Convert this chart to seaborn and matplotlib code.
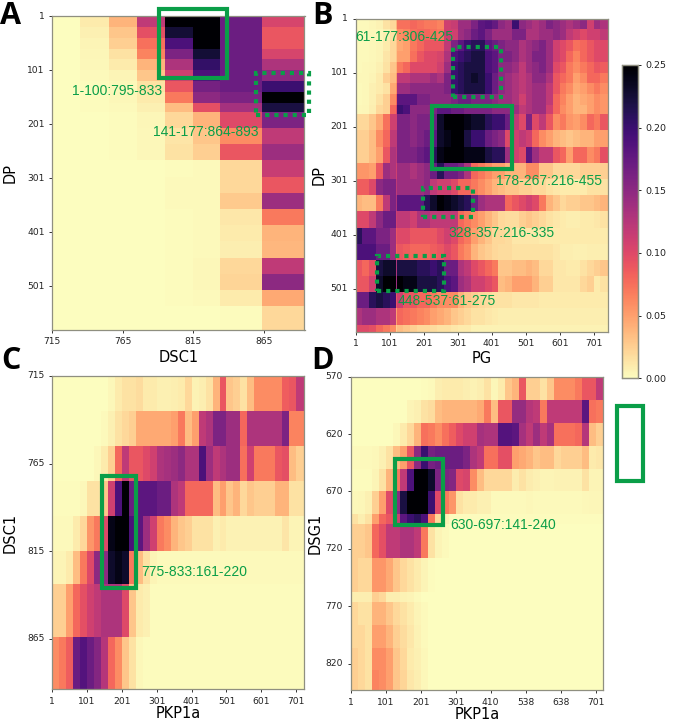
import numpy as np
import seaborn as sns
import matplotlib
matplotlib.use("Agg")
import matplotlib.pyplot as plt
from matplotlib.patches import Rectangle

W, H = 682, 720
GREEN = "#0a9e48"

A_rows = [20] * 8 + [17] + [30] * 12 + [43]
A_cols = [20, 20, 20, 20, 20, 19, 30, 30]
A_vals = [
    [0, 1, 4, 12, 25, 25, 17, 10.5],
    [0, .7, 3, 9.5, 22.5, 25, 17, 9],
    [0, .5, 2.5, 7.5, 19, 25, 17, 9],
    [0, .4, 1.5, 6.5, 16, 22.5, 17, 10.5],
    [0, .3, 1, 4, 13, 20.5, 17, 13],
    [0, .2, .5, 3, 11, 19, 17, 15],
    [0, .1, .3, 1.5, 9, 16.5, 17, 20],
    [0, .1, .3, 1, 7, 15, 16, 25],
    [0, .1, .2, .7, 3.5, 9.5, 13.5, 22],
    [0, 0, .1, .4, 2, 4, 10, 16],
    [0, 0, .1, .3, 1.3, 3, 6, 12],
    [0, 0, .1, .3, 1.5, 2.5, 9, 14],
    [0, 0, 0, 0, .1, .2, 2, 11.5],
    [0, 0, 0, 0, .2, .2, 2, 9],
    [0, 0, 0, 0, .2, .2, 2.8, 14],
    [0, 0, 0, 0, .1, .2, 1.2, 7],
    [0, 0, 0, 0, .1, .2, 1, 4],
    [0, 0, 0, 0, .1, .2, .8, 3.8],
    [0, 0, 0, 0, .1, .3, 2, 12],
    [0, 0, 0, 0, .1, .3, 2.2, 15],
    [0, 0, 0, 0, .1, .2, 1, 4.5],
    [0, 0, 0, 0, 0, 0, .1, 2],
]

B_rows = [20] * 8 + [17] + [30] * 13 + [13]
# narrow seventh column is the thin bright line at residue 120
B_cols = [20] * 5 + [18, 3, 19] + [20] * 29 + [23]
B_vals = [
    [.2, .2, .4, .6, 1.5, 2, 4, 7.5, 7.5, 8, 7.5, 7, 7, 6.5, 11, 11.5, 14, 14, 16, 18, 18.5, 17.5, 15, 14, 20, 15, 14, 13, 14, 16, 15, 14, 13, 14, 15, 11, 14, 13],
    [.2, .2, .3, .4, .8, 1.5, 3, 6, 6.5, 7.5, 8, 8, 7.5, 7, 11, 11, 14, 15, 17, 18, 16, 14, 14, 14, 16, 16, 13, 13, 14, 14, 15, 14, 12, 11, 10, 11, 11, 12],
    [.2, .2, .3, .5, 1, 2, 3, 4.5, 5, 7, 8, 9, 9, 9, 12, 16, 18, 20, 21, 21, 18, 17, 16, 15, 15, 13, 14, 15, 16, 14, 11, 10, 9, 7.5, 8, 9, 10, 10],
    [.2, .2, .3, .5, 1.3, 2, 3, 5, 5, 7.5, 9, 10, 10, 10.5, 13, 19, 20, 21, 22, 22, 19, 18, 16, 16, 15, 13, 14, 16, 16, 14, 11, 10, 8, 6.5, 8, 9, 10, 10],
    [.2, .3, .4, .7, 1.5, 3, 4, 7, 8, 10, 10, 10, 10, 11, 14, 20, 21, 22, 22, 22, 19, 18, 15, 15, 14, 12, 14, 15, 16, 14, 10, 9, 7, 6, 7, 8, 9, 8.5],
    [.3, .3, .5, 1, 2.5, 3.5, 5, 12, 12, 13, 13, 13, 14, 13, 16, 20, 21, 22, 23, 22, 20, 17, 15, 14, 13, 12, 13, 15, 15, 13, 9, 8, 7, 5, 6, 8, 8, 7],
    [.2, .3, .7, 1, 1.5, 4.5, 6, 14, 14, 15, 15, 15, 15, 15, 16, 20, 21, 22, 22, 22, 20, 17, 15, 14, 13, 12, 13, 14, 14, 12, 9, 7, 6, 4.5, 5, 6, 7, 6],
    [.2, .3, .7, 1.5, 2.5, 6, 8, 18, 18, 18, 16, 16, 15, 15, 15, 16, 17, 17, 16, 16, 16, 15, 14, 14, 13, 11, 13, 14, 14, 12, 8, 6.5, 5, 4, 4.5, 5, 6, 5.5],
    [.3, .4, .8, 2, 2.5, 8, 10, 20, 19, 15, 15, 15, 16, 18, 18, 17, 17, 16, 16, 16, 16, 15, 15, 15, 14, 12, 13, 14, 14, 11, 8, 6, 5, 4, 4, 5, 6, 5.5],
    [2, 2, 3, 4.5, 7.5, 11, 11, 16, 16, 15, 16, 16, 17, 23, 25, 25, 25, 24, 23, 23, 21, 20, 20, 17, 12, 10, 16, 10, 12, 9, 6, 7, 5.5, 5, 6, 8, 7, 9],
    [2.5, 2.5, 3.5, 6, 8, 12, 12, 16, 16, 15, 16, 17, 18, 23, 24, 25, 25, 22, 20, 20, 17, 16, 15, 10, 11, 12, 11, 8, 6, 5, 4, 3.5, 3, 3.5, 4, 4, 5, 5],
    [2.5, 2.5, 3.5, 5, 9, 13, 12, 16, 16, 16, 17, 18, 21, 24, 25, 25, 25, 24, 24, 24, 22, 21, 21, 14, 11, 10, 18, 14, 12, 12, 9, 8, 5, 8, 8, 6, 7, 9.5],
    [5.5, 5.5, 5, 9, 14, 13, 11, 14, 14, 13, 14, 15, 17, 21, 17, 17, 16, 13, 8, 7, 6, 5, 5, 4, 4, 4, 6, 6, 3, 3, 2, 2, 2, 2, 2.5, 2.5, 2.5, 2.5],
    [8.5, 8.5, 10, 15, 16, 16, 12, 14, 14, 14, 14, 15, 12, 11, 11, 10, 8, 8, 7, 6, 5, 4, 3.5, 3, 3, 2.5, 2.5, 2, 2, 1.5, 1.2, 1, 1, 1, 1, 1.5, 1.5, 1.5],
    [4, 3.5, 3.5, 7, 12, 16, 13, 18, 18, 18, 18, 21, 23, 25, 24, 23, 22, 21, 17, 14, 13, 13, 13, 8, 9, 10, 11, 10, 7, 4, 3, 2, 2.5, 2.5, 3, 3, 3.5, 4],
    [10, 10, 12, 15, 17, 17, 11, 12, 12, 11, 13, 13, 12, 12, 12, 12, 8, 7, 6, 5, 4, 3, 2, 1.8, 1.8, 2.5, 3, 2.5, 2, 1.5, 1.2, 1, .8, .8, 1, 1, 1.2, 1.5],
    [21, 18, 18, 16, 16, 14, 9, 10, 10, 9, 9, 9, 9, 10, 11, 10, 8, 7, 5, 4, 3, 2, 2, 1.8, 1.2, 1.2, 1.2, 1.2, 1, 1, 1, 1, 1, 1, 1, 1, 1, 1],
    [19, 19, 19, 17, 17, 14, 8, 9, 8.5, 8, 8, 8, 8.5, 9, 10, 9, 7, 6, 4, 3, 2.5, 2, 1.8, 1.8, 1.5, 1.5, 1.5, 1.5, 1.5, 1.5, 1.2, .8, .8, .7, .7, .8, .8, .8],
    [9, 8, 9.5, 22, 23, 23, 13, 22, 22, 22, 21, 21, 20, 21, 17, 17, 13, 12, 10, 9, 8, 7, 3, 3, 3.5, 3.5, 4, 3.5, 2, 2, 1.2, 1.2, 1, 1, 1.5, 2, 2.5, 3],
    [9, 9, 11, 23, 25, 25, 14, 25, 24, 24, 22, 22, 22, 21, 19, 18, 14, 13, 11, 11, 10, 9, 3.5, 4, 5, 5, 5, 4, 2.5, 2.5, 1.2, 1.2, 1.2, 1.2, 2, 2.5, 1, 1.5],
    [17, 17, 21, 22, 21, 20, 9, 11, 9, 9, 8, 8, 7, 6, 6, 6, 4, 3, 2.5, 2, 1.8, 1.5, 1.5, 1.5, 1.2, 1.2, 1.2, 1.2, 1, 1, 1, 1, 1, 1, 1, 1, 1, 1],
    [13, 14, 14, 13, 13, 12, 5, 8, 7.5, 7, 6.5, 6, 5, 4.5, 4, 3, 2.5, 2, 1.5, 1.5, 1.2, 1, .8, .8, .8, .8, .8, .8, .8, .8, .8, .8, .8, .8, .8, .8, .8, .8],
    [10, 10, 9.5, 8, 7, 6, 2.5, 3.5, 3, 2.5, 2, 2, 1.8, 1.5, 1.5, 1.2, 1, 1, .6, .6, .6, .6, .6, .6, .6, .6, .6, .6, .6, .6, .6, .6, .6, .6, .6, .6, .6, .6],
]

C_rows = [20, 20, 20, 20, 20, 19, 30, 30]
C_cols = [20] * 35 + [24]
C_vals = [
    [0, 0, 0, 0, 0, 0, 0, 0, .3, 1, 1.5, 1.5, 1.8, 1, 1, .7, .7, .8, 1, 2, .6, .8, 1.5, 4, 9, 3, 2.5, 1.5, 3.5, 6, 6, 6, 6, 8.5, 9, 12],
    [0, 0, 0, 0, 0, 0, 0, .2, .7, 1.5, 2, 2.5, 4.5, 4.5, 4.5, 4.5, 4.5, 5, 7, 3.5, 5, 12, 13, 16, 16, 14, 14, 8, 13, 13, 13, 13, 13, 16, 6.5, 6.5],
    [0, 0, 0, 0, 0, 0, .3, 1, 2.5, 8, 12, 9, 9, 10, 11, 13, 13.5, 14, 15, 13, 13, 19, 14, 12, 13, 14, 14, 7.5, 11, 7, 7, 7, 9, 9.5, 3.5, 2.5],
    [.1, .1, .1, .1, .3, 1.5, 1.5, 3, 11, 19, 25, 17, 18, 18, 18, 17, 17, 13, 12, 8, 8, 8, 8, 3.5, 5, 3, 4, 2, 3, 2.5, 2.5, 2.5, 4, 4, 1.5, 1.5],
    [.2, .2, .2, 1, 2, 5.5, 7, 10, 24, 25, 25, 19, 18, 14, 11, 7, 6, 4, 3, 2.5, 1.5, 1.5, 1.5, .7, 1, .6, .6, .6, .6, .6, .6, .6, .6, 1.3, .5, .5],
    [.5, .5, 1, 3.5, 7, 10, 15, 15, 23, 24, 23, 7, 3.5, 1.5, .5, .2, .2, .2, .2, .2, .2, .2, .2, .2, .2, .2, .2, .2, .2, .2, .2, .2, .2, .2, .2, .2],
    [2.5, 2.5, 5, 8, 9.5, 11, 12, 13, 13, 13, 10, 3, 1, .7, .1, .1, .1, .1, .1, .1, .1, .1, .1, .1, .1, .1, .1, .1, .1, .1, .1, .1, .1, .1, .1, .1],
    [6, 7, 8.5, 17, 18.5, 17, 15.5, 12.5, 8, 6, 3, 1.5, .3, .1, .1, .1, .1, .1, .1, .1, .1, .1, .1, .1, .1, .1, .1, .1, .1, .1, .1, .1, .1, .1, .1, .1],
]

D_rows = [20, 20, 20, 20, 20, 20, 8, 30, 30, 8, 20, 20, 20, 17]
D_cols = [20] * 35 + [22]
D_vals = [
    [0, 0, 0, 0, 0, 0, 0, 0, 0, 0, .1, .2, .8, 1, 1, 1, .8, .6, .8, 1.5, .4, 1, 3, 4, 9, 2.5, 2.5, 1.5, 3, 6, 6, 6, 7, 9, 9, 12],
    [0, 0, 0, 0, 0, 0, 0, 0, .5, .7, 1.5, 1.8, 3.5, 4, 4, 4, 4, 4, 4.5, 7, 3.5, 9, 9, 14.5, 14.5, 12.5, 12, 7, 12, 12, 12, 12, 12, 18, 7.5, 7],
    [0, 0, 0, 0, 0, 0, .3, 1, 2, 4, 7.5, 7, 6, 7.5, 8.5, 10, 11, 11, 13.5, 13, 13, 18.5, 18.5, 18, 13.5, 12, 14, 12, 13.5, 7.5, 7.5, 7.5, 8, 12.5, 3.5, 2.5],
    [.2, .2, .2, .3, .7, 1.5, 3.5, 5, 9, 15, 20, 16.5, 17, 17, 17, 17, 16, 13, 12, 7.5, 7.5, 9.5, 9.5, 5, 4.5, 4, 3, 3.5, 3.5, 2, 2.5, 2.5, 2.5, 3.5, 1, 1.2],
    [.1, .1, .1, .5, 1.5, 4, 7, 12, 19, 25, 25, 23, 16, 16, 15.5, 10, 10.5, 6, 3.5, 2, 2, 2, 2, .9, 1.5, .9, .7, .5, .5, .6, .6, .6, .6, 1.5, .5, .5],
    [.3, .4, .7, 2.5, 5, 10, 15, 22, 25, 25, 25, 20, 10, 7, 5.5, 1.5, 1, 1, .7, .7, .2, .2, .2, .2, .2, .3, .2, .2, .2, .2, .2, .2, .2, .3, .4, .4],
    [1.5, .8, 1.5, 5, 8, 9, 11, 18, 20, 21, 19, 7, 2, .6, .1, .1, .1, .1, .1, .1, .1, .1, .1, .1, .1, .1, .1, .1, .1, .1, .1, .1, .1, .1, .1, .1],
    [2.5, 2.5, 3, 8, 9.5, 12, 12, 13, 13, 12, 7, 1.5, .5, .2, .05, .05, .05, .05, .05, .05, .05, .05, .05, .05, .05, .05, .05, .05, .05, .05, .05, .05, .05, .05, .05, .05],
    [2.5, 2, 2, 5.5, 5.5, 4.5, 3, 2, 1.5, 1, .5, .1, 0, 0, 0, 0, 0, 0, 0, 0, 0, 0, 0, 0, 0, 0, 0, 0, 0, 0, 0, 0, 0, 0, 0, 0],
    [.8, .8, .8, 2.5, 2, .8, .8, .6, .5, .2, 0, 0, 0, 0, 0, 0, 0, 0, 0, 0, 0, 0, 0, 0, 0, 0, 0, 0, 0, 0, 0, 0, 0, 0, 0, 0],
    [2, 1.5, 1.5, 4, 4, 3, 2, 1.5, 1, .5, .2, 0, 0, 0, 0, 0, 0, 0, 0, 0, 0, 0, 0, 0, 0, 0, 0, 0, 0, 0, 0, 0, 0, 0, 0, 0],
    [2, 2, 1.5, 5, 5, 4, 2.5, 1.8, 1.2, .6, .2, 0, 0, 0, 0, 0, 0, 0, 0, 0, 0, 0, 0, 0, 0, 0, 0, 0, 0, 0, 0, 0, 0, 0, 0, 0],
    [2.5, 2, 1.5, 6, 6, 5, 3, 2, 1, .7, .3, 0, 0, 0, 0, 0, 0, 0, 0, 0, 0, 0, 0, 0, 0, 0, 0, 0, 0, 0, 0, 0, 0, 0, 0, 0],
    [2.5, 2, 1.5, 6.5, 6, 5, 3, 2.2, 1.2, .8, .3, 0, 0, 0, 0, 0, 0, 0, 0, 0, 0, 0, 0, 0, 0, 0, 0, 0, 0, 0, 0, 0, 0, 0, 0, 0],
]

PKP_labels = ["1", "101", "201", "301", "401", "501", "601", "701"]
PKP_labels_d = ["1", "101", "201", "301", "410", "538", "638", "701"]
PG_labels = ["1", "101", "201", "301", "401", "501", "601", "701"]
DP_labels = ["1", "101", "201", "301", "401", "501"]
DSC_labels = ["715", "765", "815", "865"]
DSG_labels = ["570", "620", "670", "720", "770", "820"]

# boxes and notes in image pixels: x0, y0, x1, y1, dotted
boxes = [
    (158.7, 8.7, 227.3, 77.7, False),
    (256.3, 73.3, 308.7, 115.3, True),
    (453.3, 46.7, 501, 97.3, True),
    (432.3, 106.3, 512.3, 169, False),
    (423.3, 187.7, 473.3, 216.7, True),
    (376.7, 255.7, 444, 291, True),
    (102, 476, 135.7, 588.3, False),
    (395.3, 459.3, 442.7, 525, False),
    (616.7, 405.7, 643.3, 480.7, False),
]
notes = [
    (71.7, 90.7, "1-100:795-833"),
    (153.3, 132.3, "141-177:864-893"),
    (355.7, 37.3, "61-177:306-425"),
    (495.7, 181, "178-267:216-455"),
    (448.7, 233.3, "328-357:216-335"),
    (397.3, 301, "448-537:61-275"),
    (141.7, 571.7, "775-833:161-220"),
    (450, 525, "630-697:141-240"),
]
letters = [(0, 24, "A"), (312, 24, "B"), (1, 369, "C"), (311, 369, "D")]


def make_ax(fig, x0, y0, x1, y1):
    return fig.add_axes([x0 / W, 1 - y1 / H, (x1 - x0) / W, (y1 - y0) / H])


def draw_panel(ax, vals, rows, cols, xticks, xlabels, yticks, ylabels, xname, yname,
               xpad=1, ypad=2, cbar_ax=None):
    grid = np.repeat(np.repeat(np.array(vals) / 100, rows, axis=0), cols, axis=1)
    sns.heatmap(grid, ax=ax, cmap="magma_r", vmin=0, vmax=0.25, cbar=cbar_ax is not None,
                cbar_ax=cbar_ax, linewidths=0, rasterized=True)
    ax.set_xticks(xticks)
    ax.set_xticklabels(xlabels, rotation=0, fontsize=6.6, color="#222222")
    ax.set_yticks(yticks)
    ax.set_yticklabels(ylabels, rotation=0, fontsize=6.6, color="#222222")
    ax.tick_params(length=2.5, width=0.7, pad=3, color="#333333")
    ax.set_xlabel(xname, fontsize=10.5, labelpad=xpad)
    ax.set_ylabel(yname, fontsize=10.5, labelpad=ypad)
    for s in ax.spines.values():
        s.set_visible(True)
        s.set_color("#8f8f80")
        s.set_linewidth(0.9)


fig = plt.figure(figsize=(W / 100, H / 100), dpi=100)

ax_a = make_ax(fig, 52.3, 16.3, 304.5, 329.5)
ax_b = make_ax(fig, 355.7, 18.7, 608.3, 331.7)
ax_c = make_ax(fig, 52.3, 376, 304.5, 689.3)
ax_d = make_ax(fig, 350.7, 376.7, 603.3, 690)
ax_cb = make_ax(fig, 621.7, 65, 637.7, 378.3)

draw_panel(ax_a, A_vals, A_rows, A_cols, [0, 50, 100, 150], DSC_labels,
           [0, 100, 200, 300, 400, 500], DP_labels, "DSC1", "DP", xpad=3, ypad=7)
draw_panel(ax_b, B_vals, B_rows, B_cols, list(range(0, 800, 100)), PG_labels,
           [0, 100, 200, 300, 400, 500], DP_labels, "PG", "DP", xpad=2, ypad=3, cbar_ax=ax_cb)
draw_panel(ax_c, C_vals, C_rows, C_cols, list(range(0, 800, 100)), PKP_labels,
           [0, 50, 100, 150], DSC_labels, "PKP1a", "DSC1", xpad=0, ypad=7)
draw_panel(ax_d, D_vals, D_rows, D_cols, list(range(0, 800, 100)), PKP_labels_d,
           [0, 50, 100, 150, 200, 250], DSG_labels, "PKP1a", "DSG1", xpad=0, ypad=2)

ax_cb.set_yticks([0, 0.05, 0.10, 0.15, 0.20, 0.25])
ax_cb.set_yticklabels(["0.00", "0.05", "0.10", "0.15", "0.20", "0.25"])
ax_cb.tick_params(labelsize=6.8, length=2.5, width=0.7, pad=3, colors="#222222")
for s in ax_cb.spines.values():
    s.set_visible(True)
    s.set_color("#8f8f80")
    s.set_linewidth(0.9)

for x0, y0, x1, y1, dotted in boxes:
    fig.add_artist(Rectangle((x0 / W, 1 - y1 / H), (x1 - x0) / W, (y1 - y0) / H, transform=fig.transFigure,
                             fill=False, edgecolor=GREEN, linewidth=3,
                             linestyle=(0, (1, 1.2)) if dotted else "-"))

for x, y, s in notes:
    fig.text(x / W, 1 - y / H, s, color=GREEN, fontsize=10, family="Liberation Sans", ha="left", va="center")

for x, y, s in letters:
    fig.text(x / W, 1 - y / H, s, color="black", fontsize=22, family="Open Sans", weight="bold", ha="left", va="baseline")

fig.savefig("out.png", dpi=100)
